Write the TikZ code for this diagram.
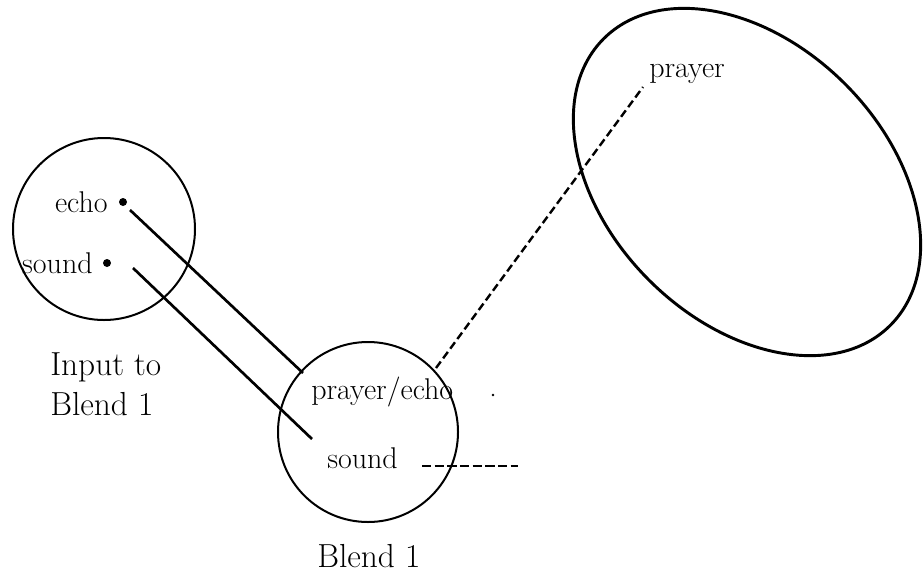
\documentclass[tikz,border=0pt]{standalone}
\usetikzlibrary{shapes.geometric}
\begin{document}
\begin{tikzpicture}[x=0.75pt,y=-0.75pt,every node/.style={inner sep=0pt},
  lbl/.style={font=\fontsize{22.5}{26}\selectfont},
  caption/.style={font=\fontsize{25}{30}\selectfont},
  spot/.style={circle,fill,minimum size=6pt},
  link/.style={line width=2pt},
  dashlink/.style={line width=1.8pt,dash pattern=on 6pt off 3pt}]
\useasboundingbox (0,0) rectangle (923,575);
\node[circle,draw,line width=1.5pt,minimum size=136.5pt] (In) at (104,229) {};
\node[circle,draw,line width=1.5pt,minimum size=135pt] (Bl) at (368,432) {};
\node[ellipse,draw,line width=2.2pt,minimum width=304pt,minimum height=208pt,rotate=-45] (Pr) at (747,182) {};
\node[spot] (e) at (123,202) {};
\node[spot] (s) at (107,263) {};
\node[lbl,anchor=base east] (echo) at (108,212) {echo};
\node[lbl,anchor=base east] (snd) at (93,273) {sound};
\node[lbl,anchor=base west] (pe) at (311,399) {prayer/echo};
\node[lbl,anchor=base west] (sb) at (327,468) {sound};
\node[lbl,anchor=base west] (pr) at (649,77) {prayer};
\node[circle,fill,minimum size=2pt] (pt) at (493,395) {};
\node[caption,anchor=north west,align=left] (capIn) at (50,352) {Input to\\Blend 1};
\node[caption,anchor=base west] (capBl) at (317,567) {Blend 1};
\coordinate (e1) at (130,210);
\coordinate (e2) at (303,373);
\coordinate (s1) at (133,268);
\coordinate (s2) at (312,439);
\coordinate (d1) at (436,368);
\coordinate (d2) at (643,87);
\coordinate (h1) at (422,466);
\coordinate (h2) at (518,466);
\draw[link] (e1) -- (e2);
\draw[link] (s1) -- (s2);
\draw[dashlink] (d1) -- (d2);
\draw[dashlink,dash pattern=on 7pt off 2.5pt] (h1) -- (h2);
\end{tikzpicture}
\end{document}
